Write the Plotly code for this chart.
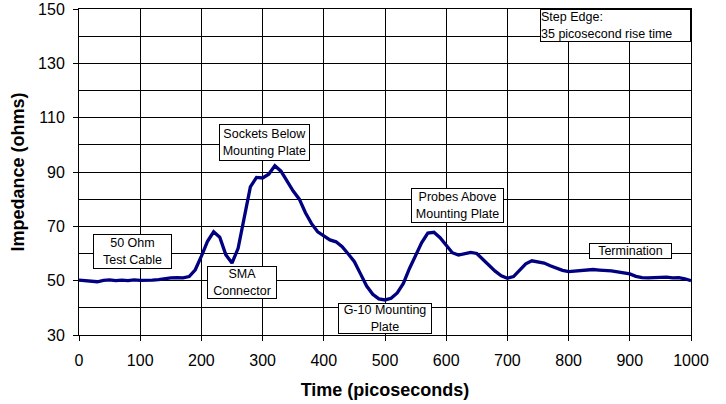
import plotly.graph_objects as go

# Data: time (ps) and impedance (ohms)
time_ps = list(range(0, 1001, 10))
impedance = [
    50.2, 50.0, 49.8, 49.6, 50.1, 50.3, 50.0, 50.2, 50.0, 50.3,
    50.1, 50.0, 50.2, 50.4, 50.8, 51.0, 51.1, 51.0, 51.5, 54.0,
    59.0, 64.5, 68.0, 66.0, 59.5, 56.5, 61.9, 73.0, 84.5, 88.0,
    87.8, 89.2, 92.3, 90.3, 86.5, 83.0, 80.0, 75.0, 71.0, 68.0,
    66.5, 65.0, 64.3, 62.5, 59.8, 57.0, 52.5, 48.0, 45.0, 43.3,
    42.9, 43.5, 45.5, 49.0, 54.5, 59.5, 64.0, 67.5, 67.8, 65.8,
    63.0, 60.3, 59.4, 60.0, 60.4, 60.0, 57.8, 55.5, 53.5, 51.8,
    50.9, 51.5, 53.8, 56.2, 57.3, 57.0, 56.5, 55.5, 54.6, 53.8,
    53.3, 53.5, 53.8, 54.2, 54.1, 53.9, 53.9, 53.6, 53.2, 52.9,
    52.5, 51.6, 51.1, 51.0, 51.2, 51.2, 51.3, 51.0, 51.1, 50.7,
    50.0,
]

x_ticks = [0, 100, 200, 300, 400, 500, 600, 700, 800, 900, 1000]
y_ticks = [30, 50, 70, 90, 110, 130, 150]

notes = [
    ("50 Ohm<br>Test Cable", 86.6, 60.6, 77, 33, "center"),
    ("SMA<br>Connector", 266, 49.3, 68, 31, "center"),
    ("Sockets Below<br>Mounting Plate", 303, 100.9, 89, 35, "center"),
    ("G-10 Mounting<br>Plate", 500, 36.1, 92, 29, "center"),
    ("Probes Above<br>Mounting Plate", 618.5, 77.7, 91, 33, "center"),
    ("Termination", 901, 60.9, 81, 14, "center"),
]

fig = go.Figure()
fig.add_trace(go.Scatter(
    x=time_ps, y=impedance, mode="lines",
    line=dict(color="#000080", width=3.3),
    showlegend=False, hoverinfo="skip",
))

font_family = "Liberation Sans, Arial, sans-serif"

annotations = []
for text, ax_, ay_, w, h, al in notes:
    annotations.append(dict(
        x=ax_, y=ay_, xref="x", yref="y", text=text, showarrow=False,
        xanchor="center", yanchor="middle", align=al,
        width=w, height=h, borderpad=0,
        bgcolor="white", bordercolor="black", borderwidth=1,
        font=dict(family=font_family, size=12.5, color="black"),
    ))
annotations.append(dict(
    x=1000, y=150, xref="x", yref="y",
    text="Step Edge:<br>35 picosecond rise time", showarrow=False,
    xanchor="right", yanchor="top", align="left",
    width=149, height=31, borderpad=0,
    bgcolor="white", bordercolor="black", borderwidth=1,
    font=dict(family=font_family, size=12.5, color="black"),
))

fig.update_layout(
    width=726, height=404,
    margin=dict(l=79, r=35, t=9, b=69),
    paper_bgcolor="white", plot_bgcolor="white",
    font=dict(family=font_family, color="black"),
    annotations=annotations,
    xaxis=dict(
        range=[0, 1000], tickvals=x_ticks, ticktext=[str(v) for v in x_ticks],
        automargin=False,
        showgrid=True, gridcolor="black", gridwidth=1,
        showline=True, linecolor="black", linewidth=1, mirror=True,
        ticks="outside", ticklen=5, tickcolor="black",
        tickfont=dict(size=16, family=font_family),
        ticklabelstandoff=6,
        zeroline=False,
        title=dict(text="<b>Time (picoseconds)</b>",
                   font=dict(size=18, family=font_family), standoff=15),
    ),
    yaxis=dict(
        range=[30, 150], tickvals=y_ticks, ticktext=[str(v) for v in y_ticks],
        automargin=False,
        showgrid=True, gridcolor="black", gridwidth=1,
        minor=dict(dtick=10, tick0=30, showgrid=True, gridcolor="black", gridwidth=1),
        showline=True, linecolor="black", linewidth=1, mirror=True,
        ticks="outside", ticklen=5, tickcolor="black",
        tickfont=dict(size=16, family=font_family),
        ticklabelstandoff=5,
        zeroline=False,
        title=dict(text="<b>Impedance (ohms)</b>",
                   font=dict(size=18, family=font_family), standoff=8),
    ),
)

# Remove the browser's default 8px body margin so the figure fills the window.
fig.write_html(
    "out.html",
    config={"displayModeBar": False, "staticPlot": True},
    post_script="document.body.style.margin='0';",
)
